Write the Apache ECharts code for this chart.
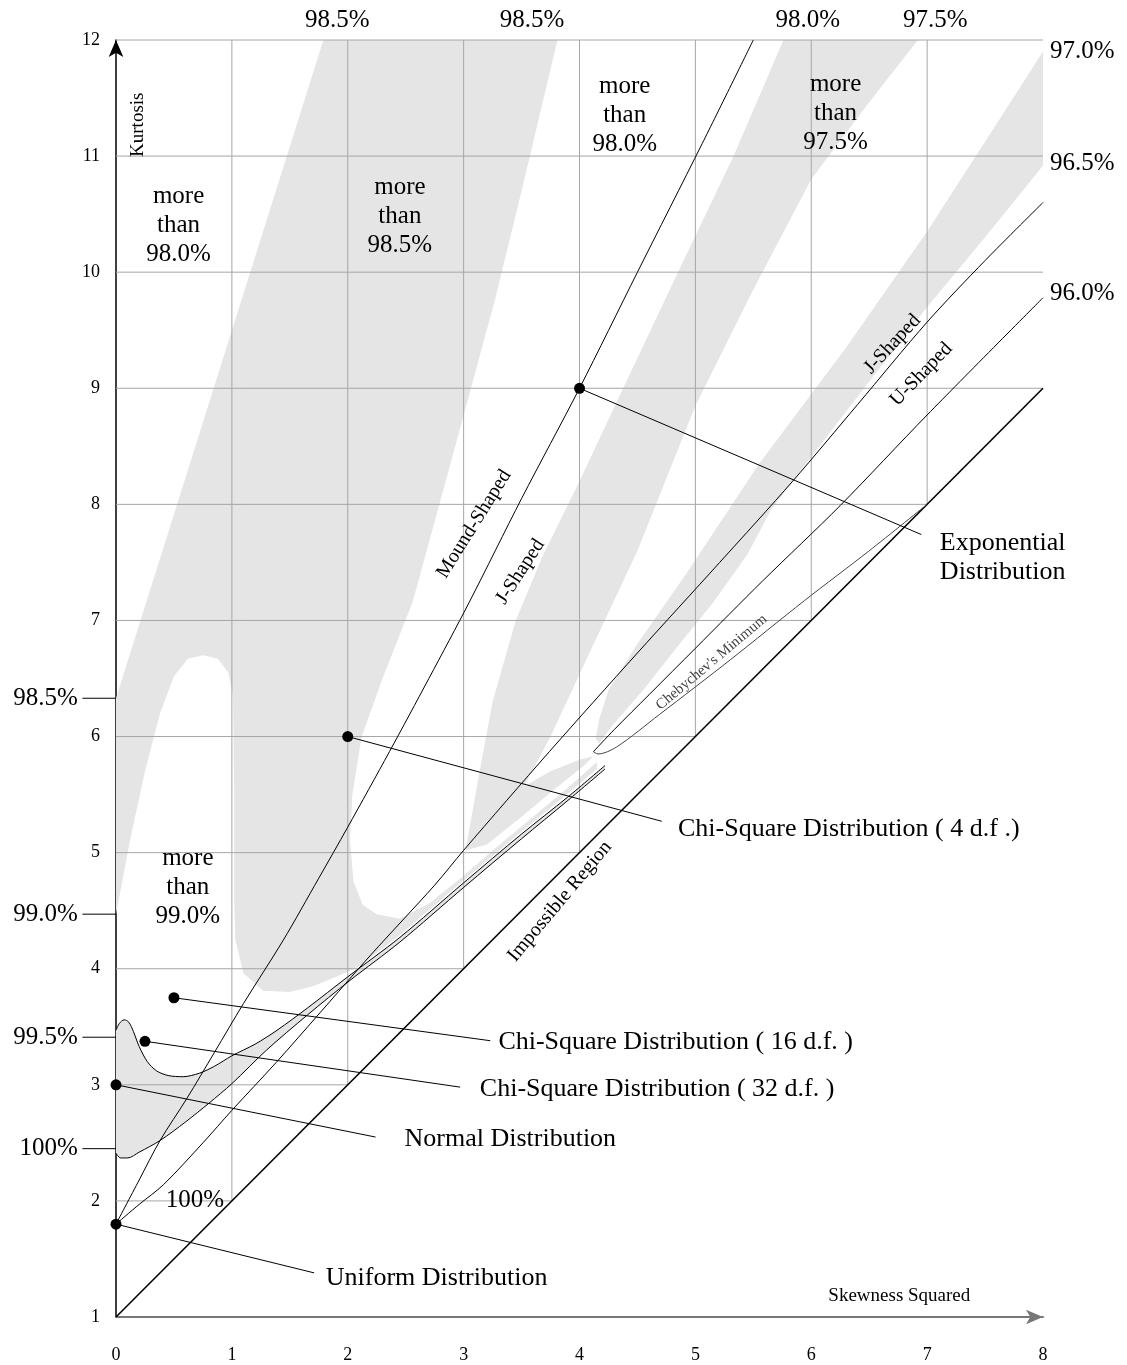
<!DOCTYPE html>
<html><head><meta charset="utf-8">
<script src="https://cdn.jsdelivr.net/npm/echarts@6/dist/echarts.min.js"></script>
<style>html,body{margin:0;padding:0;background:#fff}#c{width:1127px;height:1365px}</style>
</head><body><div id="c"></div>
<script>
// ---------- axis ticks ----------
const xTicks = [0,1,2,3,4,5,6,7,8];
const yTicks = [1,2,3,4,5,6,7,8,9,10,11,12];

// ---------- shaded regions (skewness^2, kurtosis) ----------
// 98.5%-99.0% band (with the 99.0%+ pocket cut out of it)
const band985 = [[1.79,12],[3.81,12],[3.5,10.7],[3.27,9.76],[2.9,8.4],[2.56,7.16],[2.3,6.5],[2.12,6.0],[2.04,5.5],[2.02,5.1],[2.05,4.75],[2.13,4.55],[2.25,4.47],[2.45,4.43],[2.7,4.56],[3.0,4.8],[3.3,5.06],[3.6,5.31],[3.9,5.56],[4.15,5.78],[4.15,5.72],[3.9,5.51],[3.5,5.18],[3.0,4.76],[2.45,4.29],[2.1,4.02],[1.9,3.93],[1.7,3.85],[1.5,3.8],[1.27,3.81],[1.1,3.96],[1.03,4.25],[1.02,4.6],[1.02,5.5],[1.01,6.35],[0.97,6.55],[0.88,6.67],[0.75,6.7],[0.62,6.67],[0.5,6.52],[0.38,6.2],[0.25,5.7],[0.12,5.1],[0,4.47],[0,6.33]];
// 97.5%-98.0% band
const band975 = [[5.76,12],[5.33,11],[4.85,10.0],[4.4,9.05],[4.0,8.2],[3.68,7.55],[3.45,7.0],[3.25,6.3],[3.12,5.6],[3.04,5.15],[3.02,5.02],[3.2,5.07],[3.5,5.31],[3.8,5.56],[4.05,5.76],[4.12,5.83],[4.0,5.8],[3.75,5.7],[3.52,5.57],[3.75,6.0],[4.1,6.75],[4.5,7.6],[5.0,8.85],[5.5,9.85],[6.0,10.8],[6.45,11.4],[6.92,12]];
// 96.5%-97.0% band
const band965 = [[8,11.9],[7.55,11.2],[7.0,10.35],[6.3,9.35],[5.55,8.35],[4.92,7.4],[4.5,6.8],[4.25,6.4],[4.17,6.15],[4.14,5.98],[4.17,5.94],[4.28,6.09],[4.55,6.4],[4.85,6.78],[5.15,7.15],[5.45,7.57],[5.65,7.95],[6.3,8.8],[7.0,9.7],[7.5,10.3],[8,10.92]];
// 99.5%-100% pocket around the normal point
const blobUpper = [[0,3.47],[0.03,3.53],[0.07,3.56],[0.11,3.54],[0.15,3.46],[0.2,3.33],[0.27,3.2],[0.35,3.12],[0.45,3.08],[0.58,3.07],[0.72,3.1],[0.85,3.16],[1.0,3.25],[1.2,3.35],[1.39,3.47],[1.65,3.66],[2.0,3.93],[2.45,4.27],[3.0,4.74],[3.5,5.16],[3.9,5.48],[4.22,5.75]];
const blobLower = [[0,2.41],[0.04,2.37],[0.1,2.37],[0.2,2.42],[0.38,2.52],[0.6,2.68],[0.8,2.84],[1.0,3.01],[1.3,3.3],[1.65,3.6],[2.02,3.9],[2.45,4.23],[3.0,4.7],[3.5,5.12],[3.9,5.45],[4.22,5.72]];

// ---------- boundary curves ----------
const impossibleLine = [[0,1],[8,9]];
const moundJLine = [[0,1.8],[0.2,2.18],[0.38,2.52],[0.61,2.88],[0.85,3.28],[1.1,3.7],[1.44,4.24],[1.75,4.78],[2.0,5.22],[2.36,5.87],[2.7,6.5],[3.05,7.16],[3.5,8.05],[4,9],[4.5,10.0],[5.06,11.11],[5.5,12]];
const jULine = [[0,1.8],[0.2,1.97],[0.41,2.14],[0.75,2.5],[1.0,2.78],[1.38,3.19],[1.76,3.62],[2.2,4.12],[2.75,4.72],[3.0,5.02],[3.74,5.87],[4.5,6.72],[5.21,7.5],[5.84,8.2],[6.4,8.86],[7.0,9.57],[7.5,10.1],[8,10.6]];
const uShapedLine = [[4.12,5.87],[4.3,6.06],[4.6,6.36],[5.0,6.76],[5.58,7.34],[6.25,7.99],[7.0,8.77],[8,9.78]];
const chebLower = [[4.12,5.87],[4.16,5.85],[4.32,5.91],[4.69,6.19],[5.3,6.66],[5.94,7.17],[6.5,7.6],[7.0,8.0]];

// ---------- distributions ----------
const distNames = ['Uniform Distribution','Normal Distribution','Chi-Square Distribution ( 32 d.f. )','Chi-Square Distribution ( 16 d.f. )','Chi-Square Distribution ( 4 d.f .)','Exponential\nDistribution'];
const distPoints = [[0,1.8],[0,3],[0.25,3.375],[0.5,3.75],[2,6],[4,9]];
const leaderEnds = [[1.71,1.38],[2.24,2.55],[2.97,2.98],[3.23,3.38],[4.71,5.27],[6.95,7.74]];
const distLabelAt = [[1.81,1.335],[2.49,2.53],[3.14,2.96],[3.30,3.37],[4.85,5.2],[7.11,7.54]];

// ---------- region annotations ----------
const regionText = ['more\nthan\n98.0%','more\nthan\n98.5%','more\nthan\n98.0%','more\nthan\n97.5%','more\nthan\n99.0%','100%'];
const regionTextAt = [[0.54,10.4],[2.45,10.48],[4.39,11.35],[6.21,11.37],[0.62,4.7],[0.68,2.0]];
const shapeText = ['Mound-Shaped','J-Shaped','J-Shaped','U-Shaped','Impossible Region'];
const shapeTextAt = [[3.09,7.83],[3.49,7.42],[6.7,9.38],[6.95,9.12],[3.83,4.58]];
const shapeTextAngle = [58,57,47,46,50];

// ---------- edge percentage labels ----------
const leftPct = ['98.5%','99.0%','99.5%','100%'];
const leftPctY = [6.33,4.47,3.41,2.45];
const topPct = ['98.5%','98.5%','98.0%','97.5%'];
const topPctX = [1.91,3.59,5.97,7.07];
const rightPct = ['97.0%','96.5%','96.0%'];
const rightPctY = [11.9,10.94,9.82];

const FONT = 'Liberation Serif';
const xMin = xTicks[0], xMax = xTicks[xTicks.length-1];
const yMin = yTicks[0], yMax = yTicks[yTicks.length-1];

// grid lines clipped to the possible region (kurtosis >= skew^2 + 1)
const gridSegs = [];
xTicks.slice(1,-1).forEach(k => gridSegs.push([k, k+1, k, yMax]));
yTicks.slice(1).forEach(k => gridSegs.push([xMin, k, Math.min(xMax, k-1), k]));
const leftMarkSegs = leftPctY.map(y => [-0.29, y, xMin, y]);

const shaded = [band985, band975, band965, blobUpper.concat(blobLower.slice().reverse())];

function lineSeries(data, color, width, extra) {
  return Object.assign({type:'line', data:data, symbol:'none', silent:true, z:5,
    lineStyle:{color:color, width:width}}, extra||{});
}
function textPoint(v, text, label) {
  return {value:v, label:Object.assign({show:true, formatter:text}, label)};
}
function segSeries(segs, color, z) {
  return {
    type:'custom', coordinateSystem:'cartesian2d', silent:true, z:z, clip:false,
    data: segs, encode:{x:[0,2], y:[1,3]},
    renderItem:(params, api)=>{
      const a = api.coord([api.value(0), api.value(1)]);
      const b = api.coord([api.value(2), api.value(3)]);
      return {type:'line', shape:{x1:a[0],y1:a[1],x2:b[0],y2:b[1]}, style:{stroke:color, lineWidth:1}};
    }
  };
}

const series = [];
series.push({
  type:'custom', coordinateSystem:'cartesian2d', silent:true, z:1,
  data: shaded.map((s,i)=>[i,1]),
  renderItem:(params, api)=>{
    const pts = shaded[params.dataIndex].map(p=>api.coord(p));
    return {type:'polygon', shape:{points:pts}, style:{fill:'#e5e5e5', stroke:null}};
  }
});
series.push(segSeries(gridSegs, '#a6a6a6', 2));
series.push(segSeries(leftMarkSegs, '#000', 3));
series.push(lineSeries(impossibleLine, '#000', 1.6));
series.push(lineSeries(moundJLine, '#000', 1, {smooth:0.3}));
series.push(lineSeries(jULine, '#000', 1, {smooth:0.3}));
series.push(lineSeries(uShapedLine, '#000', 1, {smooth:0.3}));
series.push(lineSeries(chebLower, '#444', 1, {smooth:0.3}));
series.push(lineSeries(blobUpper, '#000', 1, {smooth:0.3}));
series.push(lineSeries(blobLower, '#000', 1, {smooth:0.3}));
distPoints.forEach((p,i)=> series.push(lineSeries([p, leaderEnds[i]], '#000', 1)));

series.push({type:'scatter', data:distPoints, symbolSize:11, itemStyle:{color:'#000', opacity:1}, z:8, silent:true});

const texts = [];
regionText.forEach((t,i)=> texts.push(textPoint(regionTextAt[i], t, {position:'inside', fontSize:25, lineHeight:29, align:'center'})));
shapeText.forEach((t,i)=> texts.push(textPoint(shapeTextAt[i], t, {position:'inside', fontSize:20, rotate:shapeTextAngle[i]})));
texts.push(textPoint([5.14,6.64], "Chebychev's Minimum", {position:'inside', fontSize:15, rotate:40, color:'#444'}));
distNames.forEach((t,i)=> texts.push(textPoint(distLabelAt[i], t, {position:'right', distance:0, fontSize:26, lineHeight:29, align:'left'})));
leftPct.forEach((t,i)=> texts.push(textPoint([-0.33, leftPctY[i]], t, {position:'left', distance:0, fontSize:25})));
topPct.forEach((t,i)=> texts.push(textPoint([topPctX[i], 12.17], t, {position:'inside', fontSize:25})));
rightPct.forEach((t,i)=> texts.push(textPoint([8.06, rightPctY[i]], t, {position:'right', distance:0, fontSize:25})));
texts.push(textPoint([0.19,11.27], 'Kurtosis', {position:'inside', fontSize:19, rotate:90}));
texts.push(textPoint([6.76,1.18], 'Skewness Squared', {position:'inside', fontSize:19}));

series.push({type:'scatter', data:texts, symbolSize:0, clip:false, silent:true, z:10,
  itemStyle:{opacity:1},
  label:{show:true, color:'#000', fontFamily:FONT}});

const chart = echarts.init(document.getElementById('c'), null, {renderer:'canvas'});
chart.setOption({
  animation:false, backgroundColor:'#fff',
  textStyle:{fontFamily:FONT},
  grid:{left:116, right:84, top:40, bottom:48},
  xAxis:{type:'value', min:xMin, max:xMax, interval:1,
    axisLine:{show:true, lineStyle:{color:'#777', width:2}, symbol:['none','arrow'], symbolSize:[11,17]},
    axisTick:{show:false}, splitLine:{show:false},
    axisLabel:{color:'#000', fontSize:18, fontFamily:FONT, margin:29}},
  yAxis:{type:'value', min:yMin, max:yMax, interval:1,
    axisLine:{show:true, lineStyle:{color:'#000', width:1.5}, symbol:['none','arrow'], symbolSize:[11,17]},
    axisTick:{show:false}, splitLine:{show:false},
    axisLabel:{color:'#000', fontSize:18, fontFamily:FONT, margin:16}},
  series:series
});
</script></body></html>
